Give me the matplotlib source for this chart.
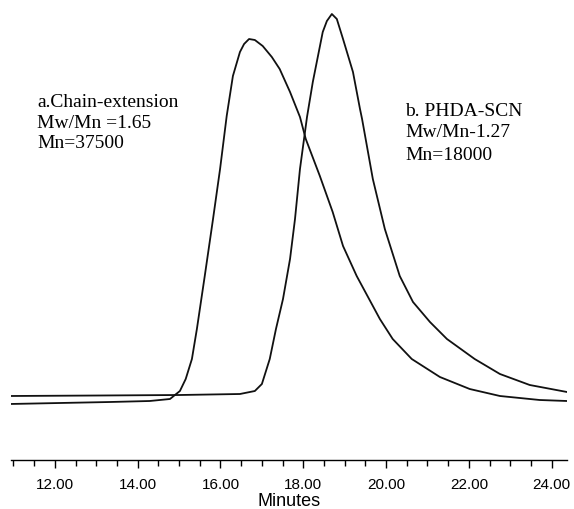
import numpy as np
import matplotlib
matplotlib.use("Agg")
import matplotlib.pyplot as plt
from matplotlib.ticker import MultipleLocator, FormatStrFormatter

# chain-extension trace (a)
timeA = [10.91, 12.12, 13.33, 14.29, 14.78, 15.02, 15.16, 15.31, 15.43, 15.62,
         15.82, 15.99, 16.15, 16.30, 16.47, 16.57, 16.69, 16.83, 17.02, 17.24,
         17.43, 17.68, 17.92, 18.06, 18.40, 18.71, 18.96, 19.29, 19.85, 20.16,
         20.62, 21.30, 22.02, 22.75, 23.71, 24.37]
respA = [5.6, 5.7, 5.8, 5.9, 6.1, 6.9, 8.1, 10.1, 13.1, 18.4,
         24.1, 29.1, 34.4, 38.4, 40.8, 41.6, 42.1, 42.0, 41.4, 40.3,
         39.1, 36.8, 34.3, 32.1, 28.4, 24.8, 21.4, 18.4, 14.1, 12.1,
         10.1, 8.3, 7.1, 6.4, 6.0, 5.9]

# PHDA-SCN trace (b)
timeB = [10.91, 13.09, 15.02, 16.47, 16.83, 17.00, 17.19, 17.34, 17.51, 17.68,
         17.80, 17.92, 18.09, 18.23, 18.47, 18.57, 18.69, 18.81, 18.96, 19.20,
         19.37, 19.42, 19.68, 19.97, 20.33, 20.65, 21.06, 21.47, 22.14, 22.75,
         23.47, 24.37]
respB = [6.4, 6.45, 6.5, 6.6, 6.9, 7.6, 10.1, 13.1, 16.1, 20.1,
         24.1, 29.1, 34.3, 37.8, 42.8, 43.9, 44.6, 44.1, 42.1, 38.8,
         35.1, 34.1, 28.1, 23.1, 18.4, 15.8, 13.8, 12.1, 10.1, 8.6,
         7.5, 6.8]

labelA = ["a.Chain-extension", "Mw/Mn =1.65", "Mn=37500"]
labelB = ["b. PHDA-SCN", "Mw/Mn-1.27", "Mn=18000"]

fig = plt.figure(figsize=(5.74, 5.10), dpi=100)
ax = fig.add_axes([11/574, 49/510, 556/574, 461/510])

ax.plot(timeA, respA, color="#111111", lw=1.3, solid_joinstyle="round")
ax.plot(timeB, respB, color="#111111", lw=1.3, solid_joinstyle="round")

ax.set_xlim(10.94, 24.37)
ax.set_ylim(0, 46.1)

for s in ["left", "right", "top"]:
    ax.spines[s].set_visible(False)
ax.spines["bottom"].set_linewidth(1.0)
ax.set_yticks([])
ax.xaxis.set_major_locator(MultipleLocator(2))
ax.xaxis.set_minor_locator(MultipleLocator(0.5))
ax.xaxis.set_major_formatter(FormatStrFormatter("%.2f"))
ax.tick_params(axis="x", which="major", length=6, width=1, pad=6,
               labelsize=11)
ax.tick_params(axis="x", which="minor", length=4, width=1)
for t in ax.get_xticklabels():
    t.set_fontfamily("Liberation Sans")
fig.text(0.5 * (11 + 567) / 574, 1 - 502/510, "Minutes", fontsize=13,
         family="Liberation Sans", ha="center", va="center")

serif = "Liberation Serif"
for i, s in enumerate(labelA):
    fig.text(37/574, 1 - (103 + 20*i)/510, s, fontsize=14, family=serif,
             va="center", ha="left")
for i, s in enumerate(labelB):
    fig.text(405/574, 1 - (111 + 22*i)/510, s, fontsize=14, family=serif,
             va="center", ha="left")

fig.savefig("out.png", dpi=100)
